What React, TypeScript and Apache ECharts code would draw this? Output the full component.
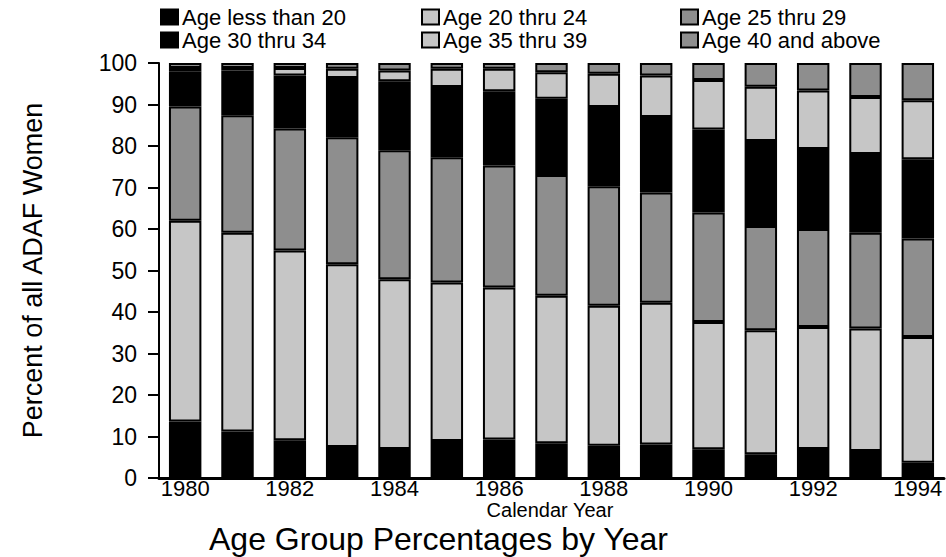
import React, { useEffect, useRef } from "react";
import * as echarts from "echarts";

const years = ["1980", "1981", "1982", "1983", "1984", "1985", "1986", "1987", "1988", "1989", "1990", "1991", "1992", "1993", "1994"];
const seriesNames = ["Age less than 20", "Age 20 thru 24", "Age 25 thru 29", "Age 30 thru 34", "Age 35 thru 39", "Age 40 and above"];
const ageLT20 = [13.6, 11.2, 9.1, 7.5, 7.0, 8.9, 9.3, 8.4, 7.8, 8.1, 6.9, 5.7, 7.0, 6.5, 3.7];
const age20to24 = [48.4, 47.9, 45.7, 44.0, 40.9, 38.2, 36.6, 35.5, 33.7, 34.1, 30.7, 29.9, 29.4, 29.5, 30.3];
const age25to29 = [27.5, 28.3, 29.4, 30.6, 31.1, 30.2, 29.4, 29.1, 28.8, 26.6, 26.4, 25.1, 23.6, 23.1, 23.7];
const age30to34 = [8.5, 10.8, 12.8, 14.3, 16.6, 16.9, 17.9, 18.4, 19.1, 18.2, 20.0, 20.5, 19.3, 19.0, 19.1];
const age35to39 = [0.8, 0.6, 1.8, 2.2, 2.6, 4.4, 5.4, 6.4, 8.0, 10.0, 11.9, 13.1, 14.1, 13.7, 14.2];
const age40plus = [1.2, 1.2, 1.2, 1.4, 1.8, 1.4, 1.4, 2.2, 2.6, 3.0, 4.1, 5.7, 6.6, 8.2, 9.0];
const yTicks = [0, 100, 10];
const xAxisTitle = "Calendar Year";

const FONT = "'Liberation Sans', Arial, Helvetica, sans-serif";
const colors = ["#000000", "#c6c6c6", "#8e8e8e", "#000000", "#c6c6c6", "#8e8e8e"];
const values = [ageLT20, age20to24, age25to29, age30to34, age35to39, age40plus];
const legendPos = [
  { left: 160, top: 6 },
  { left: 421, top: 6 },
  { left: 680, top: 6 },
  { left: 160, top: 29 },
  { left: 421, top: 29 },
  { left: 680, top: 29 },
];

export default function App() {
  const ref = useRef<HTMLDivElement>(null);
  useEffect(() => {
    if (!ref.current) return;
    const chart = echarts.init(ref.current, null, { renderer: "svg" });
    chart.setOption({
      animation: false,
      backgroundColor: "#ffffff",
      title: {
        text: "Age Group Percentages by Year",
        left: 209,
        top: 523,
        padding: 0,
        textStyle: { fontFamily: FONT, fontSize: 32, lineHeight: 32, fontWeight: "normal", color: "#000" },
      },
      legend: seriesNames.map((n, i) => ({
        data: [n],
        left: legendPos[i].left,
        top: legendPos[i].top,
        padding: 0,
        itemWidth: 17,
        itemHeight: 15,
        itemGap: 4,
        icon: "rect",
        textStyle: { fontFamily: FONT, fontSize: 22, lineHeight: 22, color: "#000", padding: [0, 0, 0, -1] },
      })),
      graphic: [
        {
          type: "text",
          x: 550,
          y: 510,
          style: {
            text: xAxisTitle,
            fontFamily: FONT,
            fontSize: 20,
            lineHeight: 20,
            align: "center",
            verticalAlign: "middle",
            fill: "#000",
          },
        },
      ],
      grid: { left: 159, right: 2, top: 63, bottom: 79, containLabel: false },
      xAxis: {
        type: "category",
        data: years,
        boundaryGap: true,
        axisLine: { lineStyle: { color: "#000", width: 3 } },
        axisTick: { show: false },
        axisLabel: { interval: 1, margin: 0, fontFamily: FONT, fontSize: 22, lineHeight: 21, color: "#000" },
      },
      yAxis: {
        type: "value",
        min: yTicks[0],
        max: yTicks[1],
        interval: yTicks[2],
        name: "Percent of all ADAF Women",
        nameLocation: "middle",
        nameGap: 113,
        nameTextStyle: { fontFamily: FONT, fontSize: 27, color: "#000" },
        axisLine: { show: true, lineStyle: { color: "#000", width: 2 } },
        axisTick: { show: true, length: 11, lineStyle: { color: "#000", width: 2 } },
        axisLabel: { margin: 22, fontFamily: FONT, fontSize: 23, color: "#000" },
        splitLine: { show: false },
      },
      series: seriesNames.map((n, i) => ({
        name: n,
        type: "bar",
        stack: "total",
        data: values[i],
        barWidth: "62%",
        itemStyle: { color: colors[i], borderColor: "#000", borderWidth: 2 },
      })),
    });
    return () => chart.dispose();
  }, []);
  return <div ref={ref} style={{ width: 946, height: 557, position: "absolute", left: 0, top: 0 }} />;
}
